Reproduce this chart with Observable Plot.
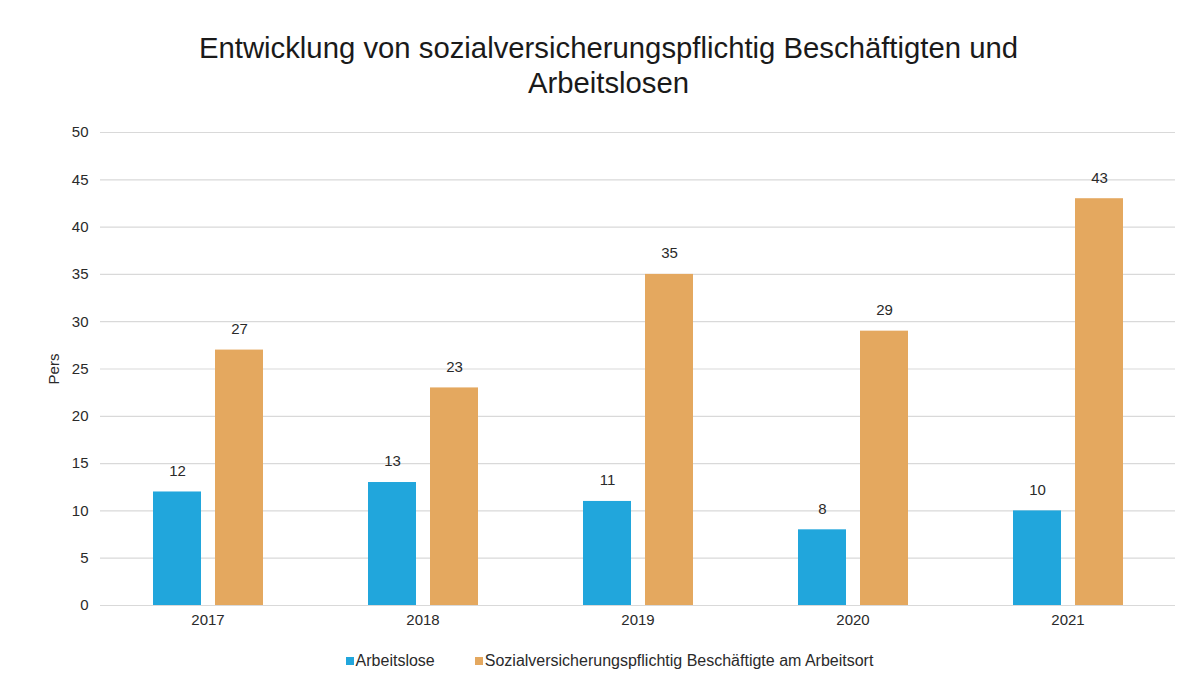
<!DOCTYPE html>
<html>
<head>
<meta charset="utf-8">
<script src="https://cdn.jsdelivr.net/npm/d3@7"></script>
<script src="https://cdn.jsdelivr.net/npm/@observablehq/plot@0.6"></script>
<style>
  body { margin: 0; background: #fff; font-family: "Liberation Sans", Arial, sans-serif; }
  #title { text-align: center; font-size: 29.3px; line-height: 35px; color: #1a1a1a; padding-top: 30px; height: 70px; padding-left: 14px; }
  #legend { display: flex; justify-content: center; gap: 40px; font-size: 16px; color: #2a2a2a; margin-top: 12px; padding-left: 16px; }
  #legend span.sw { display: inline-block; width: 8px; height: 8px; margin-right: 2px; vertical-align: 1px; }
</style>
</head>
<body>
<div id="title">Entwicklung von sozialversicherungspflichtig Beschäftigten und<br>Arbeitslosen</div>
<div id="chart"></div>
<div id="legend"></div>
<script>
const years = ["2017", "2018", "2019", "2020", "2021"];
const seriesNames = ["Arbeitslose", "Sozialversicherungspflichtig Beschäftigte am Arbeitsort"];
const arbeitslose = [12, 13, 11, 8, 10];
const beschaeftigte = [27, 23, 35, 29, 43];
const colors = ["#21a6dc", "#e4a85f"];
const yTicks = [0, 5, 10, 15, 20, 25, 30, 35, 40, 45, 50];

const data = [];
years.forEach((y, i) => {
  data.push({year: y, series: seriesNames[0], value: arbeitslose[i]});
  data.push({year: y, series: seriesNames[1], value: beschaeftigte[i]});
});

const chart = Plot.plot({
  width: 1203,
  height: 540,
  marginLeft: 100,
  marginRight: 28,
  marginTop: 32,
  marginBottom: 35,
  style: {fontFamily: "'Liberation Sans', Arial, sans-serif", fontSize: "15px", color: "#2a2a2a"},
  fx: {domain: years, padding: 0, label: null, axis: "bottom", tickSize: 0, tickPadding: 9},
  x: {domain: seriesNames, paddingInner: 0.226, paddingOuter: 0.836, axis: null},
  y: {domain: [0, 50], ticks: yTicks},
  color: {domain: seriesNames, range: colors},
  marks: [
    Plot.gridY(yTicks, {stroke: "#d9d9d9", strokeOpacity: 1, strokeWidth: 1.2}),
    Plot.axisY({ticks: yTicks, tickSize: 0, tickPadding: 12, label: "Pers", labelAnchor: "center", labelArrow: "none", labelOffset: 52, fill: "#2a2a2a"}),
    Plot.barY(data, {fx: "year", x: "series", y: "value", fill: "series"}),
    Plot.text(data, {fx: "year", x: "series", y: "value", text: d => String(d.value), dy: -21, fill: "#2a2a2a", fontSize: 15})
  ]
});
document.getElementById("chart").appendChild(chart);

const legend = document.getElementById("legend");
seriesNames.forEach((s, i) => {
  const item = document.createElement("div");
  const sw = document.createElement("span");
  sw.className = "sw";
  sw.style.background = colors[i];
  item.appendChild(sw);
  item.appendChild(document.createTextNode(s));
  legend.appendChild(item);
});
</script>
</body>
</html>
